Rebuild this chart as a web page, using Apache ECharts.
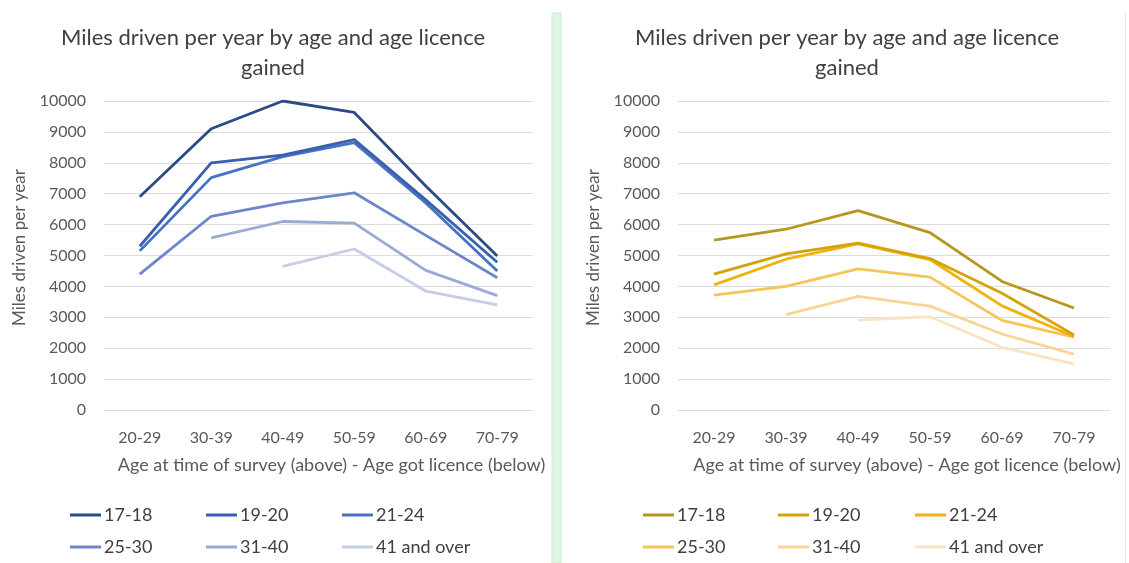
<!DOCTYPE html>
<html>
<head>
<meta charset="utf-8">
<script src="https://cdn.jsdelivr.net/npm/echarts@6/dist/echarts.min.js"></script>
<style>
html,body{margin:0;padding:0;background:#fff;}
#c{width:1129px;height:563px;}
</style>
</head>
<body>
<div id="c"></div>
<script>
const categories = ['20-29','30-39','40-49','50-59','60-69','70-79'];
const seriesNames = ['17-18','19-20','21-24','25-30','31-40','41 and over'];
const yTicks = [0,1000,2000,3000,4000,5000,6000,7000,8000,9000,10000];

// Left chart (blue)
const left_17_18 = [6900, 9100, 10000, 9630, 7250, 4980];
const left_19_20 = [5300, 8000, 8250, 8750, 6800, 4780];
const left_21_24 = [5150, 7520, 8200, 8650, 6700, 4500];
const left_25_30 = [4400, 6270, 6700, 7030, 5650, 4280];
const left_31_40 = [null, 5570, 6100, 6050, 4520, 3700];
const left_41_over = [null, null, 4650, 5210, 3850, 3400];

// Right chart (gold)
const right_17_18 = [5500, 5850, 6450, 5740, 4160, 3300];
const right_19_20 = [4400, 5050, 5400, 4900, 3780, 2430];
const right_21_24 = [4050, 4880, 5380, 4870, 3370, 2380];
const right_25_30 = [3720, 4000, 4570, 4300, 2900, 2360];
const right_31_40 = [null, 3090, 3680, 3360, 2460, 1810];
const right_41_over = [null, null, 2910, 3020, 2030, 1490];

const leftData = [left_17_18, left_19_20, left_21_24, left_25_30, left_31_40, left_41_over];
const rightData = [right_17_18, right_19_20, right_21_24, right_25_30, right_31_40, right_41_over];

const blueColors = ['#2c4a86', '#3a5fae', '#4472c4', '#6c86cb', '#9aa9d6', '#c6cde6'];
const goldColors = ['#b5961f', '#d5a309', '#efb30b', '#f5c557', '#f8d596', '#fae3c2'];

const FONT = 'Lato';
const chart = echarts.init(document.getElementById('c'));

function mkX(gi){
  return {
    type:'category', gridIndex:gi, data:categories, boundaryGap:true,
    axisLine:{show:false}, axisTick:{show:false},
    axisLabel:{color:'#595959', fontSize:16, fontFamily:FONT, margin:20},
    name:'Age at time of survey (above) - Age got licence (below)',
    nameLocation:'middle', nameGap:46,
    nameTextStyle:{color:'#595959', fontSize:18, fontFamily:FONT, padding:[0,0,0,26]}
  };
}
function mkY(gi){
  return {
    type:'value', gridIndex:gi, min:0, max:10000, interval:1000,
    axisLine:{show:false}, axisTick:{show:false},
    axisLabel:{color:'#595959', fontSize:16, fontFamily:FONT, margin:18,
      formatter: v => yTicks.indexOf(v) >= 0 ? String(v) : ''},
    splitLine:{lineStyle:{color:'#dcdcdc', width:1}},
    name:'Miles driven per year', nameLocation:'middle', nameGap:76,
    nameTextStyle:{color:'#595959', fontSize:17, fontFamily:FONT, padding:[0,0,0,16]}
  };
}

const series = [];
const legends = [];
const colX = [[70,206,342],[643,778,915]];
const rowY = [506, 538];
[leftData, rightData].forEach((set, gi) => {
  const cols = gi === 0 ? blueColors : goldColors;
  set.forEach((arr, i) => {
    const id = (gi === 0 ? 'L ' : 'R ') + seriesNames[i];
    series.push({
      type:'line', name:id, xAxisIndex:gi, yAxisIndex:gi, data:arr,
      symbol:'none', connectNulls:false, z: 10 - i,
      lineStyle:{color:cols[i], width:2.8}, itemStyle:{color:cols[i]}
    });
    legends.push({
      data:[id], left:colX[gi][i%3], top:rowY[Math.floor(i/3)],
      itemWidth:31, itemHeight:3, itemGap:3, padding:0, selectedMode:false,
      icon:'rect',
      formatter: () => seriesNames[i],
      textStyle:{color:'#404040', fontSize:18, fontFamily:FONT, padding:[0,0,0,-2]}
    });
  });
});

chart.setOption({
  animation:false,
  backgroundColor:'#ffffff',
  title:[
    {text:'Miles driven per year by age and age licence\ngained', left:268, top:18, textAlign:'center',
     textStyle:{color:'#404040', fontSize:22, fontWeight:'normal', fontFamily:FONT, lineHeight:30}},
    {text:'Miles driven per year by age and age licence\ngained', left:842, top:18, textAlign:'center',
     textStyle:{color:'#404040', fontSize:22, fontWeight:'normal', fontFamily:FONT, lineHeight:30}}
  ],
  grid:[
    {left:104, right:596, top:101, bottom:153},
    {left:678, right:19, top:101, bottom:153}
  ],
  xAxis:[mkX(0), mkX(1)],
  yAxis:[mkY(0), mkY(1)],
  legend:legends,
  series:series,
  graphic:[
    {type:'rect', shape:{x:552, y:13, width:9, height:550}, style:{fill:'#e0f5e1', stroke:'#cdeccf', lineWidth:1}, silent:true},
    {type:'line', shape:{x1:1125.5, y1:13, x2:1125.5, y2:563}, style:{stroke:'#e8e8e8', lineWidth:1}, silent:true}
  ]
});
</script>
</body>
</html>
